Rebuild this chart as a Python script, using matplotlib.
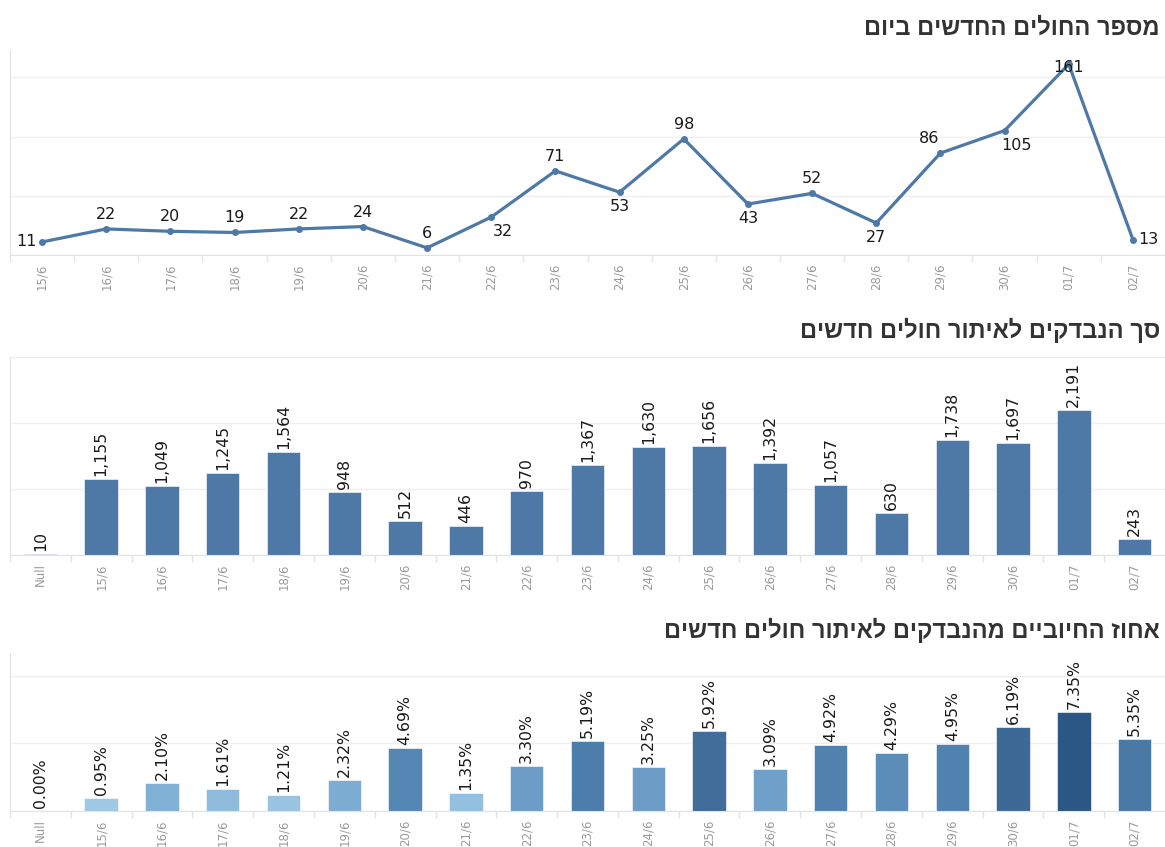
import numpy as np
import matplotlib
matplotlib.use('Agg')
import matplotlib.pyplot as plt
from matplotlib.colors import LinearSegmentedColormap

# data
dates = ['15/6', '16/6', '17/6', '18/6', '19/6', '20/6', '21/6', '22/6', '23/6',
         '24/6', '25/6', '26/6', '27/6', '28/6', '29/6', '30/6', '01/7', '02/7']
new_cases = [11, 22, 20, 19, 22, 24, 6, 32, 71, 53, 98, 43, 52, 27, 86, 105, 161, 13]

bar_dates = ['Null'] + dates
tested = [10, 1155, 1049, 1245, 1564, 948, 512, 446, 970, 1367, 1630, 1656, 1392,
          1057, 630, 1738, 1697, 2191, 243]
positive_pct = [0.00, 0.95, 2.10, 1.61, 1.21, 2.32, 4.69, 1.35, 3.30, 5.19, 3.25,
                5.92, 3.09, 4.92, 4.29, 4.95, 6.19, 7.35, 5.35]

titles = ['מספר החולים החדשים ביום',
          'סך הנבדקים לאיתור חולים חדשים',
          'אחוז החיוביים מהנבדקים לאיתור חולים חדשים']


def heb(s):
    # matplotlib has no bidi support, so flip the hebrew for display
    return s[::-1]


blue = '#4e79a7'
grid_c = '#efefef'
axis_c = '#e3e3e3'
tick_c = '#9a9a9a'
lab_font = ['DejaVu Sans']
title_font = ['Liberation Sans', 'DejaVu Sans']

# placement of the line labels: (dx px, dy px, ha, va)
place = {'up': (0, 7, 'center', 'bottom'), 'down': (0, -7, 'center', 'top')}
line_pos = ['left', 'up', 'up', 'up', 'up', 'up', 'up', 'downr', 'up', 'down', 'up',
            'down', 'up', 'down', 'upl', 'downr', 'on', 'right']
place['left'] = (-5, 0, 'right', 'center')
place['right'] = (5, 0, 'left', 'center')
place['downr'] = (12, -7, 'center', 'top')
place['upl'] = (-11, 7, 'center', 'bottom')
place['on'] = (0, -3, 'center', 'center')

fig = plt.figure(figsize=(11.65, 8.47), dpi=100)
W, H = 1165.0, 847.0


def make_ax(top_px, bottom_px):
    ax = fig.add_axes([10 / W, 1 - bottom_px / H, 1155 / W, (bottom_px - top_px) / H])
    for s in ['top', 'right']:
        ax.spines[s].set_visible(False)
    ax.spines['left'].set_color(axis_c)
    ax.spines['bottom'].set_color(axis_c)
    ax.tick_params(axis='y', left=False, labelleft=False)
    ax.tick_params(axis='x', which='major', length=0, pad=6, labelsize=8.5,
                   labelcolor=tick_c, rotation=90)
    ax.tick_params(axis='x', which='minor', length=5, color=axis_c, width=1)
    ax.grid(axis='y', color=grid_c, linewidth=1)
    ax.set_axisbelow(True)
    return ax


# chart 1 - new cases per day
ax1 = make_ax(50, 255)
x1 = np.arange(len(dates))
ax1.plot(x1, new_cases, color=blue, linewidth=2.3, marker='o', markersize=4)
ax1.set_xlim(-0.5, len(dates) - 0.5)
ax1.set_ylim(0, 173)
ax1.set_yticks([0, 50, 100, 150])
ax1.set_xticks(x1)
ax1.set_xticklabels(dates)
ax1.set_xticks(np.arange(len(dates)) - 0.5, minor=True)
for xi, v, p in zip(x1, new_cases, line_pos):
    dx, dy, ha, va = place[p]
    ax1.annotate(str(v), (xi, v), xytext=(dx, dy), textcoords='offset pixels',
                 ha=ha, va=va, fontsize=11.5, color='#1a1a1a', family=lab_font)

# chart 2 - number tested
ax2 = make_ax(357, 555)
x2 = np.arange(len(bar_dates))
ax2.bar(x2, tested, width=0.55, color=blue, edgecolor='white', linewidth=0.4)
ax2.set_xlim(-0.5, len(bar_dates) - 0.5)
ax2.set_ylim(0, 3000)
ax2.set_yticks([0, 1000, 2000, 3000])
ax2.set_xticks(x2)
ax2.set_xticklabels(bar_dates)
ax2.set_xticks(x2 - 0.5, minor=True)
for xi, v in zip(x2, tested):
    ax2.annotate(f'{v:,}', (xi, v), xytext=(0, 3), textcoords='offset pixels',
                 ha='center', va='bottom', rotation=90, fontsize=11.3,
                 color='#1a1a1a', family=lab_font)

# chart 3 - percent positive
cmap = LinearSegmentedColormap.from_list('tab_blue', [
    (0.0, '#b9ddf1'), (0.13, '#9fc8e4'), (0.29, '#80b0d5'), (0.42, '#70a0c8'),
    (0.64, '#5587b4'), (0.8, '#426e9b'), (1.0, '#2a5783')])
ax3 = make_ax(653, 811)
pmax = max(positive_pct)
colors = [cmap(v / pmax) for v in positive_pct]
ax3.bar(x2, positive_pct, width=0.55, color=colors, edgecolor='white', linewidth=0.4)
ax3.set_xlim(-0.5, len(bar_dates) - 0.5)
ax3.set_ylim(0, 11.7)
ax3.set_yticks([0, 5, 10])
ax3.set_xticks(x2)
ax3.set_xticklabels(bar_dates)
ax3.set_xticks(x2 - 0.5, minor=True)
for xi, v in zip(x2, positive_pct):
    ax3.annotate(f'{v:.2f}%', (xi, v), xytext=(0, 3), textcoords='offset pixels',
                 ha='center', va='bottom', rotation=90, fontsize=11.3,
                 color='#1a1a1a', family=lab_font)

# titles, right aligned like the hebrew original
for t, y in zip(titles, [28, 330, 630]):
    fig.text(1160 / W, 1 - y / H, heb(t), ha='right', va='center', fontsize=17,
             fontweight='bold', color='#333333', family=title_font)

fig.savefig('out.png', dpi=100)
